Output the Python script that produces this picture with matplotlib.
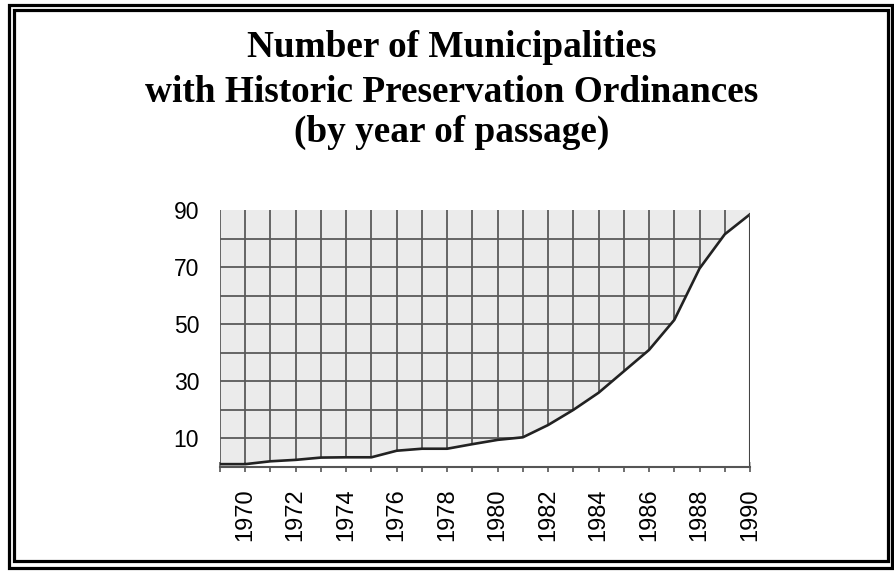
import matplotlib
matplotlib.use("Agg")
import matplotlib.pyplot as plt
from matplotlib.patches import Rectangle

# ---- data ----
years = [1969, 1970, 1971, 1972, 1973, 1974, 1975, 1976, 1977, 1978, 1979,
         1980, 1981, 1982, 1983, 1984, 1985, 1986, 1987, 1988, 1989, 1990]
counts = [1, 1, 2, 2.5, 3.3, 3.4, 3.4, 5.7, 6.4, 6.4, 8, 9.5, 10.4, 14.7,
          20, 26, 33.5, 41, 51.5, 69.5, 81.5, 88.5]
ytick_vals = [10, 30, 50, 70, 90]
ytick_labels = ["10", "30", "50", "70", "90"]
xtick_years = [1970, 1972, 1974, 1976, 1978, 1980, 1982, 1984, 1986, 1988, 1990]
title_lines = ["Number of Municipalities",
               "with Historic Preservation Ordinances",
               "(by year of passage)"]

W, H = 894, 574
fig = plt.figure(figsize=(W / 100, H / 100), dpi=100)
fig.patch.set_facecolor("white")

def px_rect(x0, y0, x1, y1, lw):
    r = Rectangle((x0 / W, 1 - y1 / H), (x1 - x0) / W, (y1 - y0) / H,
                  transform=fig.transFigure, fill=False, edgecolor="black",
                  linewidth=lw, zorder=10)
    fig.add_artist(r)

px_rect(9, 5.3, 892, 568, 2.3)
px_rect(14.3, 10.3, 888, 561, 2.3)

# title, one line at a time (baselines in pixels from top)
for line, base in zip(title_lines, [57, 102, 142]):
    fig.text(452 / W, 1 - base / H, line, ha="center", va="baseline",
             fontsize=26.8, fontweight="bold", family="Liberation Serif")

ax = fig.add_axes([220 / W, 1 - 467 / H, (750 - 220) / W, (467 - 210) / H])
ax.set_xlim(years[0], years[-1])
ax.set_ylim(0, 90)
ax.set_facecolor("#ebebeb")

grid_col = "#5a5a5a"
ax.vlines(years[:-1], 0, 90, colors=grid_col, linewidth=1.3, zorder=1)
ax.hlines(list(range(10, 90, 10)), years[0], years[-1], colors=grid_col,
          linewidth=1.3, zorder=1)

ax.fill_between(years, counts, 0, color="white", zorder=2, linewidth=0)
ax.plot(years, counts, color="#222222", linewidth=1.9, zorder=3,
        solid_joinstyle="round")
ax.vlines(years[-1], 0, counts[-1], colors="#444444", linewidth=1.5, zorder=3)

for s in ["top", "right", "left"]:
    ax.spines[s].set_visible(False)
ax.spines["bottom"].set_color("#555555")
ax.spines["bottom"].set_linewidth(1.5)
ax.spines["bottom"].set_zorder(4)

ax.set_xticks(years, minor=True)
ax.set_xticks(xtick_years)
ax.set_xticklabels([str(y) for y in xtick_years], rotation=90,
                   fontsize=17, family="Liberation Sans")
ax.tick_params(axis="x", which="both", direction="inout", length=7,
               width=1.2, color="#555555", pad=12)
ax.set_yticks(ytick_vals)
ax.set_yticklabels(ytick_labels, fontsize=16.5, family="Liberation Sans")
ax.tick_params(axis="y", length=0, pad=15)

fig.savefig("out.png", dpi=100, facecolor="white")
